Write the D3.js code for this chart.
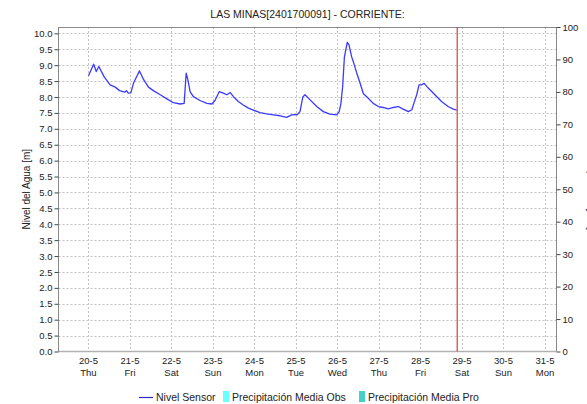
<!DOCTYPE html>
<html>
<head>
<meta charset="utf-8">
<script src="https://cdn.jsdelivr.net/npm/d3@7"></script>
<style>
  html, body { margin: 0; padding: 0; background: #fff; }
  svg { display: block; font-family: "Liberation Sans", Arial, sans-serif; }
</style>
</head>
<body>
<svg id="chart" width="587" height="404"></svg>
<script>
// Station water level (hourly sensor readings, subsampled)
const sensorTimes = [
  "2021-05-20 00:00","2021-05-20 03:00","2021-05-20 04:30","2021-05-20 06:00","2021-05-20 09:00",
  "2021-05-20 12:30","2021-05-20 15:30","2021-05-20 18:00","2021-05-20 21:00","2021-05-20 22:00",
  "2021-05-20 23:00","2021-05-21 00:30","2021-05-21 02:00","2021-05-21 04:20","2021-05-21 05:30",
  "2021-05-21 07:45","2021-05-21 10:40","2021-05-21 13:30","2021-05-21 17:30","2021-05-21 21:20",
  "2021-05-22 01:10","2021-05-22 05:00","2021-05-22 07:20","2021-05-22 08:30","2021-05-22 09:30",
  "2021-05-22 10:45","2021-05-22 12:40","2021-05-22 16:30","2021-05-22 20:30","2021-05-22 23:20",
  "2021-05-23 01:10","2021-05-23 03:40","2021-05-23 06:00","2021-05-23 08:00","2021-05-23 10:00",
  "2021-05-23 11:50","2021-05-23 14:40","2021-05-23 17:30","2021-05-23 20:30","2021-05-23 23:20",
  "2021-05-24 03:10","2021-05-24 07:00","2021-05-24 11:00","2021-05-24 14:50","2021-05-24 18:40",
  "2021-05-24 21:30","2021-05-25 00:50","2021-05-25 02:20","2021-05-25 04:00","2021-05-25 05:15",
  "2021-05-25 08:10","2021-05-25 12:00","2021-05-25 15:50","2021-05-25 19:40","2021-05-25 23:30",
  "2021-05-26 01:00","2021-05-26 02:00","2021-05-26 03:00","2021-05-26 04:00","2021-05-26 05:40",
  "2021-05-26 06:40","2021-05-26 08:10","2021-05-26 09:10","2021-05-26 11:00","2021-05-26 13:00",
  "2021-05-26 15:00","2021-05-26 17:50","2021-05-26 20:40","2021-05-26 23:40","2021-05-27 02:30",
  "2021-05-27 05:20","2021-05-27 08:20","2021-05-27 11:10","2021-05-27 14:00","2021-05-27 17:00",
  "2021-05-27 19:00","2021-05-27 20:10","2021-05-27 21:50","2021-05-27 23:10","2021-05-28 00:40",
  "2021-05-28 02:10","2021-05-28 04:30","2021-05-28 08:20","2021-05-28 12:10","2021-05-28 16:00",
  "2021-05-28 19:00","2021-05-28 21:00"
];
const sensorLevels = [
  8.67, 9.03, 8.80, 8.96, 8.64,
  8.38, 8.31, 8.20, 8.15, 8.20,
  8.12, 8.13, 8.43, 8.69, 8.82,
  8.56, 8.31, 8.20, 8.07, 7.94,
  7.82, 7.78, 7.80, 8.75, 8.54,
  8.17, 8.01, 7.89, 7.80, 7.78,
  7.89, 8.17, 8.12, 8.07, 8.14,
  8.01, 7.86, 7.75, 7.65, 7.59,
  7.51, 7.47, 7.44, 7.41, 7.36,
  7.44, 7.45, 7.54, 8.01, 8.07,
  7.91, 7.70, 7.54, 7.46, 7.44,
  7.54, 7.80, 8.33, 9.25, 9.72,
  9.64, 9.27, 9.11, 8.78, 8.45,
  8.10, 7.96, 7.80, 7.70, 7.67,
  7.63, 7.67, 7.70, 7.62, 7.54,
  7.60, 7.80, 8.07, 8.38, 8.38,
  8.43, 8.28, 8.07, 7.86, 7.70,
  7.62, 7.59
];

// Axis labelling
const dayDates = ["2021-05-20","2021-05-21","2021-05-22","2021-05-23","2021-05-24","2021-05-25",
                  "2021-05-26","2021-05-27","2021-05-28","2021-05-29","2021-05-30","2021-05-31"];
const dayLabels = ["20-5","21-5","22-5","23-5","24-5","25-5","26-5","27-5","28-5","29-5","30-5","31-5"];
const dayNames = ["Thu","Fri","Sat","Sun","Mon","Tue","Wed","Thu","Fri","Sat","Sun","Mon"];
const levelTicks = d3.range(0, 10.01, 0.5);
const rainTicks = d3.range(0, 101, 10);
const nowTime = "2021-05-28 21:15";
const timeDomain = ["2021-05-19 06:40", "2021-05-31 06:40"];

const parseT = d3.timeParse("%Y-%m-%d %H:%M");
const parseD = d3.timeParse("%Y-%m-%d");

const svg = d3.select("#chart");
const L = 58.5, R = 556.5, T = 27, B = 351.5;

const x = d3.scaleTime().domain(timeDomain.map(parseT)).range([L, R]);
const yL = d3.scaleLinear().domain([0, 10.2]).range([B, T]);
const yR = d3.scaleLinear().domain([0, 100]).range([B, T]);

const gridColor = "#c4c4c4";
const axisColor = "#8a8a8a";
const textColor = "#222";

// Horizontal grid
svg.append("g").selectAll("line").data(levelTicks.filter(v => v > 0)).join("line")
  .attr("x1", L).attr("x2", R)
  .attr("y1", d => Math.round(yL(d)) + 0.5).attr("y2", d => Math.round(yL(d)) + 0.5)
  .attr("stroke", gridColor).attr("stroke-dasharray", "2,2");

// Vertical grid at each day
svg.append("g").selectAll("line").data(dayDates).join("line")
  .attr("x1", d => Math.round(x(parseD(d))) + 0.5).attr("x2", d => Math.round(x(parseD(d))) + 0.5)
  .attr("y1", T).attr("y2", B)
  .attr("stroke", gridColor).attr("stroke-dasharray", "2,2");

// Frame
svg.append("line").attr("x1", L).attr("x2", R).attr("y1", T + 0.5).attr("y2", T + 0.5).attr("stroke", axisColor);
svg.append("line").attr("x1", L).attr("x2", L).attr("y1", T).attr("y2", B).attr("stroke", axisColor);
svg.append("line").attr("x1", R).attr("x2", R).attr("y1", T).attr("y2", B).attr("stroke", axisColor);
svg.append("line").attr("x1", L).attr("x2", R).attr("y1", B).attr("y2", B)
  .attr("stroke", "#666").attr("stroke-width", 1.5).attr("stroke-dasharray", "1,1");

// Left axis
const leftAxis = d3.axisLeft(yL).tickValues(levelTicks).tickFormat(d3.format(".1f")).tickSize(4).tickPadding(2);
const gL = svg.append("g").attr("transform", `translate(${L},0)`).call(leftAxis);
gL.select(".domain").remove();
gL.selectAll(".tick line").attr("stroke", "#444");
gL.selectAll(".tick text").attr("fill", textColor).style("font-size", "9.5px").style("font-family", "Liberation Sans, Arial, sans-serif");

// Right axis
const rightAxis = d3.axisRight(yR).tickValues(rainTicks).tickSize(4).tickPadding(2);
const gR = svg.append("g").attr("transform", `translate(${R},0)`).call(rightAxis);
gR.select(".domain").remove();
gR.selectAll(".tick line").attr("stroke", "#444");
gR.selectAll(".tick text").attr("fill", textColor).style("font-size", "9.5px").style("font-family", "Liberation Sans, Arial, sans-serif");

// Bottom day labels
const gX = svg.append("g");
gX.selectAll("text.d").data(dayDates).join("text").attr("class", "d")
  .attr("x", d => x(parseD(d))).attr("y", 364).attr("text-anchor", "middle")
  .attr("fill", textColor).style("font-size", "9.5px")
  .text((d, i) => dayLabels[i]);
gX.selectAll("text.n").data(dayDates).join("text").attr("class", "n")
  .attr("x", d => x(parseD(d))).attr("y", 376).attr("text-anchor", "middle")
  .attr("fill", textColor).style("font-size", "9.5px")
  .text((d, i) => dayNames[i]);

// Water level line
const series = sensorTimes.map((t, i) => ({ t: parseT(t), v: sensorLevels[i] }));
svg.append("path").datum(series)
  .attr("fill", "none").attr("stroke", "#3a3aff").attr("stroke-width", 1.3)
  .attr("stroke-linejoin", "round")
  .attr("d", d3.line().x(d => x(d.t)).y(d => yL(d.v)));

// Current time marker
const xn = x(parseT(nowTime));
svg.append("line").attr("x1", xn).attr("x2", xn).attr("y1", T).attr("y2", B)
  .attr("stroke", "#e03a3a").attr("stroke-width", 1.2);

// Title
svg.append("text").attr("x", (L + R) / 2).attr("y", 18).attr("text-anchor", "middle")
  .attr("fill", textColor).style("font-size", "10.5px")
  .text("LAS MINAS[2401700091] - CORRIENTE:");

// Axis titles (the precipitation title sits at the right edge of the canvas)
svg.append("text").attr("transform", `translate(30,${(T + B) / 2}) rotate(-90)`)
  .attr("text-anchor", "middle").attr("fill", textColor).style("font-size", "10px")
  .text("Nivel del Agua [m]");
svg.append("text").attr("transform", `translate(588,${(T + B) / 2}) rotate(90)`)
  .attr("text-anchor", "middle").attr("fill", textColor).style("font-size", "10px")
  .text("Precipitación [mm]");

// Legend
const lg = svg.append("g").style("font-size", "10.5px");
lg.append("line").attr("x1", 139).attr("x2", 153).attr("y1", 397.5).attr("y2", 397.5)
  .attr("stroke", "#2a2ad0").attr("stroke-width", 1.2);
lg.append("text").attr("x", 156).attr("y", 401).attr("fill", textColor).text("Nivel Sensor");
lg.append("rect").attr("x", 223).attr("y", 391).attr("width", 6).attr("height", 11).attr("fill", "#6cffff");
lg.append("text").attr("x", 232).attr("y", 401).attr("fill", textColor).text("Precipitación Media Obs");
lg.append("rect").attr("x", 359).attr("y", 391).attr("width", 6).attr("height", 11).attr("fill", "#48d0c8");
lg.append("text").attr("x", 368).attr("y", 401).attr("fill", textColor).text("Precipitación Media Pro");
</script>
</body>
</html>
